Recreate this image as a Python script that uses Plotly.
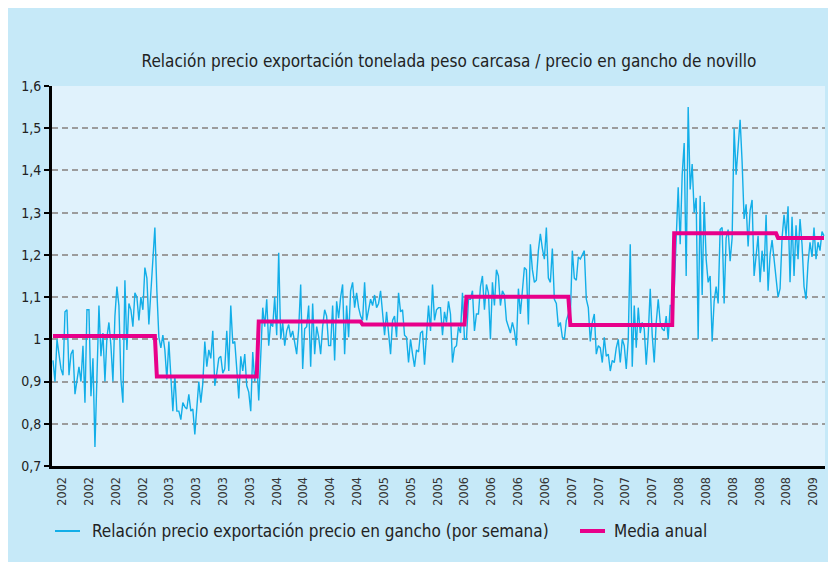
import plotly.graph_objects as go

# Weekly ratio (export price per tonne carcass weight / hook price of steer)
relacion = [
    # 2002-2003 (weeks 0-99)
    0.95, 0.90, 1.0, 0.96, 0.93, 0.915, 1.065, 1.07, 0.915, 0.965,
    0.975, 0.87, 0.90, 0.935, 0.90, 0.985, 0.85, 1.07, 1.07, 0.865,
    0.955, 0.745, 0.91, 1.08, 0.96, 1.015, 0.90, 1.005, 1.04, 0.985,
    0.90, 1.055, 1.125, 1.08, 0.905, 0.85, 1.14, 0.975, 1.085, 1.07,
    1.03, 1.11, 1.10, 1.045, 1.10, 1.07, 1.17, 1.145, 1.035, 1.115,
    1.195, 1.265, 1.115, 1.005, 0.98, 1.01, 0.975, 0.905, 0.995, 0.91,
    0.83, 0.915, 0.83, 0.83, 0.81, 0.85, 0.84, 0.835, 0.87, 0.83,
    0.835, 0.775, 0.85, 0.90, 0.85, 0.895, 0.995, 0.935, 0.975, 0.955,
    1.02, 0.89, 0.92, 0.955, 0.96, 0.92, 0.93, 1.02, 0.925, 1.08,
    0.99, 0.995, 0.93, 0.86, 0.96, 0.925, 0.965, 0.89, 0.875, 0.83,
    # 2003-2005
    0.97, 0.90, 0.955, 0.855, 0.96, 1.075, 1.03, 1.095, 0.985, 1.04,
    1.03, 1.1, 1.01, 1.205, 1.0, 1.04, 0.985, 1.02, 1.035, 1.005,
    1.02, 0.99, 0.965, 1.025, 1.13, 0.93, 1.025, 1.03, 1.08, 0.935,
    1.085, 0.965, 1.03, 1.005, 0.965, 1.03, 1.07, 1.055, 0.985, 0.985,
    1.08, 0.95, 1.09, 1.05, 1.1, 1.13, 0.965, 1.08, 1.005, 1.115,
    1.135, 1.075, 1.11, 1.075, 1.055, 1.045, 1.135, 1.045, 1.07, 1.095,
    1.08, 1.105, 1.075, 1.085, 1.115, 1.06, 1.01, 1.065, 1.02, 0.965,
    1.045, 1.055, 1.005, 1.11, 1.065, 1.07, 1.01, 1.005, 0.945, 1.0,
    0.965, 0.935, 0.975, 0.97, 1.015, 1.02, 0.94, 1.015, 1.08, 1.02,
    1.13, 1.045, 1.07, 1.075, 1.075, 1.01, 1.065, 1.04,
    # 2005-2007
    1.09, 1.06, 0.945, 0.98, 0.985, 1.03, 1.015, 1.11, 1.0, 1.0,
    1.095, 1.095, 1.115, 1.02, 1.06, 1.06, 1.125, 1.15, 1.07, 1.13,
    1.11, 1.0, 1.135, 1.08, 1.165, 1.15, 1.08, 1.115, 1.105, 1.045,
    1.03, 1.015, 1.04, 1.02, 0.985, 1.12, 1.06, 1.11, 1.17, 1.165,
    1.035, 1.225, 1.165, 1.135, 1.14, 1.21, 1.25, 1.215, 1.19, 1.265,
    1.145, 1.135, 1.215, 1.095, 1.085, 1.03, 1.04, 1.005, 1.0, 1.045,
    1.06, 1.055, 1.21, 1.145, 1.14, 1.195, 1.19, 1.2, 1.21, 1.095,
    1.075, 0.995, 1.04, 1.06, 0.965, 0.985, 0.98, 0.945, 1.005, 0.96,
    0.965, 0.925, 0.95, 0.945, 0.98, 1.0, 0.945, 1.0, 0.985, 0.93,
    1.0, 1.225, 0.935, 1.08, 0.98, 1.075, 1.015,
    # 2007-2009
    1.04, 1.025, 0.94, 1.01, 1.12, 1.01, 0.945, 1.04, 1.095, 1.04,
    1.025, 1.02, 1.055, 1.0, 1.08, 1.08, 1.115, 1.245, 1.36, 1.225,
    1.39, 1.465, 1.15, 1.55, 1.355, 1.415, 1.3, 1.335, 1.0, 1.34,
    1.105, 1.325, 1.19, 1.135, 1.15, 0.995, 1.09, 1.125, 1.085, 1.26,
    1.265, 1.085, 1.24, 1.26, 1.185, 1.24, 1.5, 1.39, 1.47, 1.52,
    1.42, 1.285, 1.32, 1.22, 1.305, 1.33, 1.15, 1.19, 1.245, 1.135,
    1.21, 1.16, 1.295, 1.115, 1.2, 1.235, 1.19, 1.135, 1.1, 1.12,
    1.24, 1.295, 1.245, 1.315, 1.135, 1.29, 1.15, 1.27, 1.19, 1.285,
    1.225, 1.125, 1.095, 1.18, 1.23, 1.195, 1.265, 1.19, 1.23, 1.21,
    1.255, 1.245,
]

anios = ["2002", "2003", "2004", "2005", "2006", "2007", "2008", "2009"]
media_anual = [1.008, 0.912, 1.042, 1.035, 1.101, 1.034, 1.251, 1.240]
semanas_por_anio = [52, 51, 52, 52, 52, 52, 52, 24]

etiquetas_x = ["2002", "2002", "2002", "2002",
               "2003", "2003", "2003", "2003",
               "2004", "2004", "2004", "2004",
               "2005", "2005", "2005",
               "2006", "2006", "2006", "2006",
               "2007", "2007", "2007", "2007",
               "2008", "2008", "2008", "2008", "2008",
               "2009"]

y_valores = [0.7, 0.8, 0.9, 1.0, 1.1, 1.2, 1.3, 1.4, 1.5, 1.6]
y_etiquetas = ["0,7", "0,8", "0,9", "1", "1,1", "1,2", "1,3", "1,4", "1,5", "1,6"]

titulo = "Relación precio exportación tonelada peso carcasa / precio en gancho de novillo"
nombre_serie = "Relación precio exportación precio en gancho (por semana)"
nombre_media = "Media anual"

# ---- build ----
semanas = list(range(len(relacion)))
media_semanal = []
for m, n in zip(media_anual, semanas_por_anio):
    media_semanal += [m] * n

paso = 13.43
tick_pos = [4.5 + paso * i for i in range(len(etiquetas_x))]

FONT = "DejaVu Sans Condensed, DejaVu Sans, sans-serif"
PANEL = "#c6e9f8"
PLOTBG = "#e0f2fc"
CYAN = "#12aee8"
MAGENTA = "#e8008a"
TXT = "#222222"

W, H = 836, 562
L, R, T, B = 44, 19, 78, 104
pw, ph = W - L - R, H - T - B

def px_x(x):
    return (x - L) / pw

def px_y(y):
    return (H - B - y) / ph

fig = go.Figure()
fig.add_trace(go.Scatter(
    x=semanas, y=relacion, mode="lines", name=nombre_serie,
    line=dict(color=CYAN, width=1.4), hoverinfo="skip"))
fig.add_trace(go.Scatter(
    x=semanas, y=media_semanal, mode="lines", name=nombre_media,
    line=dict(color=MAGENTA, width=4), hoverinfo="skip"))

# manual legend (figure pixel coordinates)
LEG_Y = 523
shapes = [
    dict(type="line", xref="paper", yref="paper",
         x0=px_x(47), x1=px_x(72), y0=px_y(LEG_Y), y1=px_y(LEG_Y),
         line=dict(color=CYAN, width=2)),
    dict(type="line", xref="paper", yref="paper",
         x0=px_x(572), x1=px_x(597), y0=px_y(LEG_Y), y1=px_y(LEG_Y),
         line=dict(color=MAGENTA, width=4)),
]
annotations = [
    dict(text=nombre_serie, xref="paper", yref="paper",
         x=px_x(82), y=px_y(LEG_Y), xanchor="left", yanchor="middle",
         showarrow=False, font=dict(size=17, family=FONT, color=TXT)),
    dict(text=nombre_media, xref="paper", yref="paper",
         x=px_x(604), y=px_y(LEG_Y), xanchor="left", yanchor="middle",
         showarrow=False, font=dict(size=17, family=FONT, color=TXT)),
]

fig.update_layout(
    width=W, height=H,
    margin=dict(l=L, r=R, t=T, b=B, pad=0, autoexpand=False),
    paper_bgcolor=PANEL, plot_bgcolor=PLOTBG,
    font=dict(family=FONT, color=TXT),
    title=dict(text=titulo, x=px_x(441), xanchor="center", xref="paper",
               y=1 - 53 / H, yanchor="middle", yref="container",
               font=dict(size=17, family=FONT, color=TXT)),
    showlegend=False,
    shapes=shapes,
    annotations=annotations,
    xaxis=dict(range=[-0.5, len(relacion) - 0.5], tickmode="array",
               tickvals=tick_pos, ticktext=etiquetas_x, tickangle=-90,
               ticks="", showgrid=False, zeroline=False, automargin=False,
               showline=True, linecolor="black", linewidth=3,
               ticklabelstandoff=3,
               tickfont=dict(size=12.5, family=FONT, color="#333333")),
    yaxis=dict(range=[0.7, 1.6], tickmode="array", tickvals=y_valores,
               ticktext=y_etiquetas, ticks="outside", ticklen=5,
               tickwidth=2, tickcolor="black", automargin=False,
               showgrid=True, gridcolor="#9c9c9c", gridwidth=1.5,
               griddash="6px,4px", zeroline=False,
               showline=True, linecolor="black", linewidth=3,
               tickfont=dict(size=14, family=FONT, color=TXT)),
)

fig.write_html("out.html")
